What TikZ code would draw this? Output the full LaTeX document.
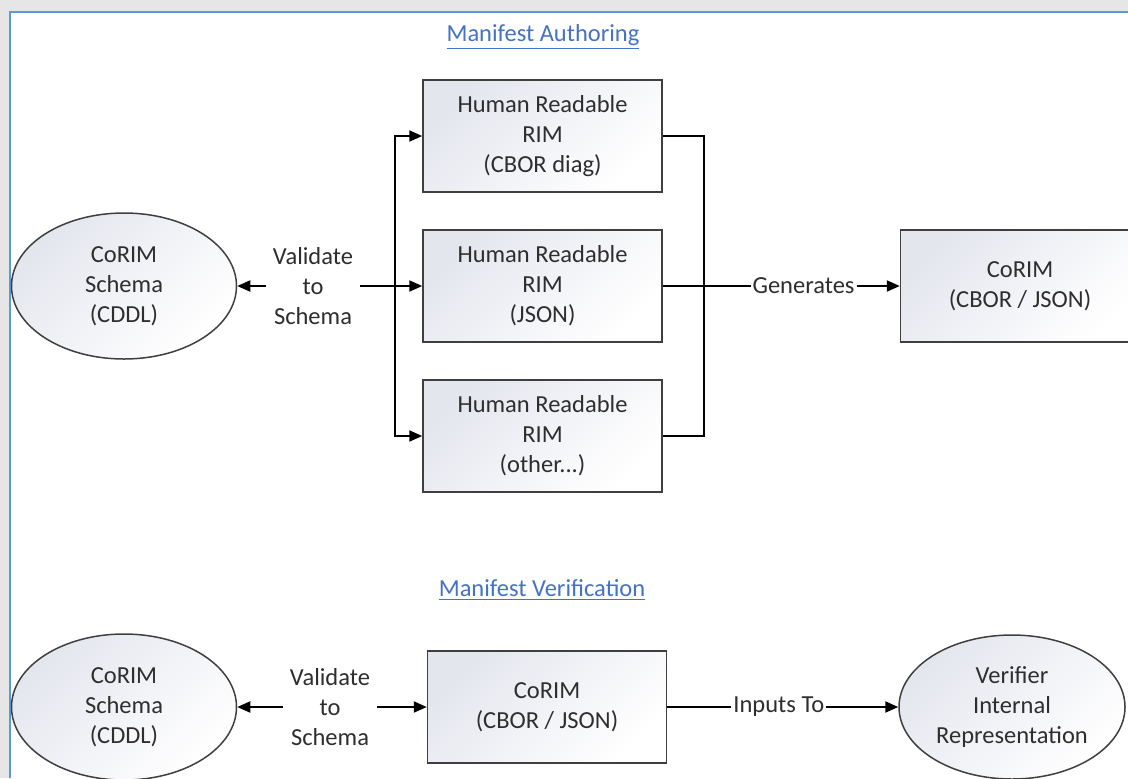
\documentclass[tikz,border=0pt]{standalone}
\usepackage{fontspec}
\setmainfont{Carlito}
\usetikzlibrary{arrows.meta,shapes.geometric}
\definecolor{pagegray}{HTML}{E6E6E6}
\definecolor{frameblue}{HTML}{5B9BD5}
\definecolor{titleblue}{HTML}{4472C4}
\definecolor{inkgray}{HTML}{2E2E2E}
\definecolor{edgegray}{HTML}{3F3F3F}
\definecolor{shadetop}{HTML}{E4E6EE}
\begin{document}
\begin{tikzpicture}[x=0.5pt,y=-0.5pt,
  every node/.style={font=\fontsize{12.25}{15}\selectfont, text=inkgray, align=center},
  rimbox/.style={draw=edgegray, line width=0.75pt, minimum width=119.5pt, minimum height=56pt,
    top color=shadetop, bottom color=white, shading angle=45},
  schema/.style={ellipse, draw=edgegray, line width=0.75pt, inner sep=0pt,
    minimum width=112.5pt, minimum height=73pt,
    top color=shadetop, bottom color=white, shading angle=45},
  flow/.style={draw=black, line width=1pt, -{Triangle[length=6.5pt,width=5.5pt]}},
  plain/.style={draw=black, line width=1pt},
  heading/.style={text=titleblue},
  edgelabel/.style={fill=white, inner sep=1pt}
]
% page background and frame
\useasboundingbox (0,0) rectangle (1128,778);
\clip (0,0) rectangle (1128,778);
\fill[pagegray] (0,0) rectangle (1128,778);
\fill[white] (10,12) rectangle (1128,778);
\draw[frameblue, line width=1.1pt] (10,778) -- (10,12) -- (1128,12);

% ---- Manifest Authoring ----
\node[heading] (t1) at (543,37) {\underline{Manifest Authoring}};
\node[schema] (sch1) at (124,286) {CoRIM\\Schema\\(CDDL)};
\node (v1) at (313,286) {Validate\\to\\Schema};
\node[rimbox] (hr1) at (542.5,136) {Human Readable\\RIM\\(CBOR diag)};
\node[rimbox] (hr2) at (542.5,286) {Human Readable\\RIM\\(JSON)};
\node[rimbox] (hr3) at (542.5,436) {Human Readable\\RIM\\(other...)};
\node[rimbox] (cbor1) at (1020,286) {CoRIM\\(CBOR / JSON)};

\coordinate (split) at (395,286);
\coordinate (merge) at (704,286);

\draw[flow] (v1.west) -- (sch1.east);
\draw[flow] (v1.east) -- (hr2.west);
\draw[flow] (split) |- (hr1.west);
\draw[flow] (split) |- (hr3.west);
\draw[plain] (hr1.east) -| (merge) |- (hr3.east);
\draw[flow] (hr2.east) -- node[edgelabel, pos=0.594] {Generates} (cbor1.west);

% ---- Manifest Verification ----
\node[heading] (t2) at (542,590) {\underline{Manifest Verification}};
\node[schema] (sch2) at (124,707) {CoRIM\\Schema\\(CDDL)};
\node (v2) at (330,707) {Validate\\to\\Schema};
\node[rimbox] (cbor2) at (547,707) {CoRIM\\(CBOR / JSON)};
\node[schema, minimum width=113pt, minimum height=72pt] (verif) at (1012,707) {Verifier\\Internal\\Representation};

\draw[flow] (v2.west) -- (sch2.east);
\draw[flow] (v2.east) -- (cbor2.west);
\draw[flow] (cbor2.east) -- node[edgelabel, pos=0.483] {Inputs To} (verif.west);
\end{tikzpicture}
\end{document}
